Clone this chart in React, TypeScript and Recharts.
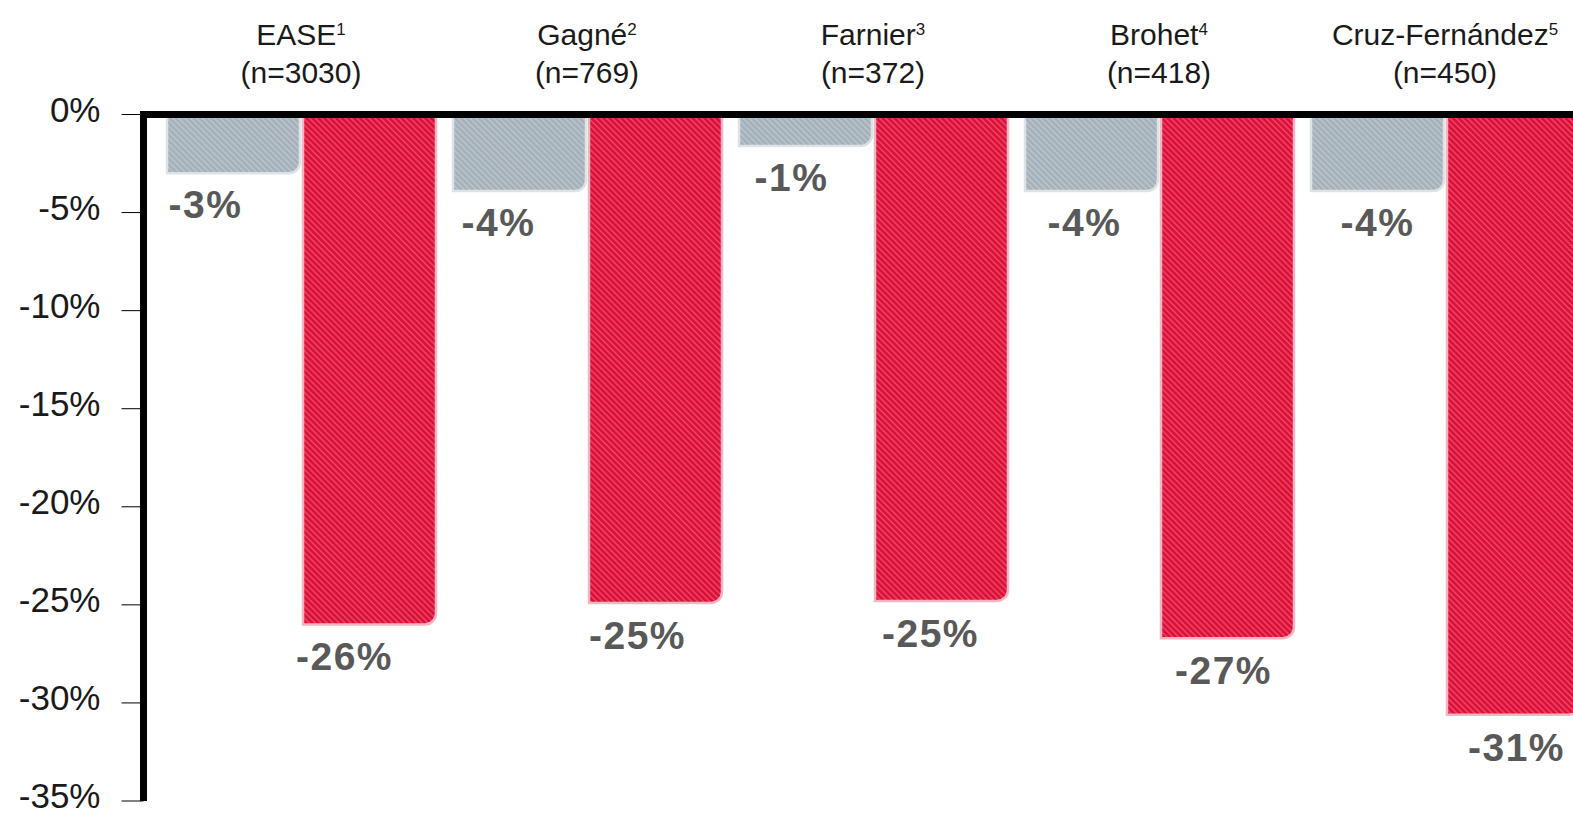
import { BarChart, Bar, XAxis, YAxis, LabelList } from 'recharts'

const STUDIES = ['EASE', 'Gagné', 'Farnier', 'Brohet', 'Cruz-Fernández']
const CITATIONS = ['1', '2', '3', '4', '5']
const SAMPLE_SIZES = ['(n=3030)', '(n=769)', '(n=372)', '(n=418)', '(n=450)']
const PLACEBO = [-3.0, -3.9, -1.6, -3.9, -3.9]
const EZETIMIBE = [-26.0, -24.9, -24.8, -26.7, -30.6]
const PLACEBO_LABELS = ['-3%', '-4%', '-1%', '-4%', '-4%']
const EZETIMIBE_LABELS = ['-26%', '-25%', '-25%', '-27%', '-31%']
const Y_TICKS = [0, -5, -10, -15, -20, -25, -30, -35]

const data = STUDIES.map((name, i) => ({
  name,
  citation: CITATIONS[i],
  sampleSize: SAMPLE_SIZES[i],
  placebo: PLACEBO[i],
  ezetimibe: EZETIMIBE[i],
  placeboLabel: PLACEBO_LABELS[i],
  ezetimibeLabel: EZETIMIBE_LABELS[i],
}))

const FONT = '"Liberation Sans", Arial, Helvetica, sans-serif'

function StudyTick({ x, y, payload, index }: any) {
  const row = data[index] ?? data.find((d) => d.name === payload.value)
  return (
    <g>
      <text x={x} y={y - 70} textAnchor='middle' fontSize={30} fill='#1a1a1a' fontFamily={FONT}>
        {payload.value}
        <tspan dy={-10} fontSize={17}>
          {row?.citation}
        </tspan>
      </text>
      <text x={x} y={y - 32} textAnchor='middle' fontSize={30} fill='#1a1a1a' fontFamily={FONT}>
        {row?.sampleSize}
      </text>
    </g>
  )
}

// bottom label sits close to the page edge, so keep the offset small
function PercentTick({ x, y, payload }: any) {
  return (
    <text x={x} y={y + 7} textAnchor='end' fontSize={35} fill='#1a1a1a' fontFamily={FONT}>
      {`${payload.value}%`}
    </text>
  )
}

function makeLabel(startShift: number, step: number, baseline: number) {
  return (props: any) => {
    const { x, y, width, height, value, index } = props
    const bottom = Math.max(Number(y), Number(y) + Number(height))
    return (
      <text
        x={Number(x) + Number(width) / 2 + startShift + step * index}
        y={bottom + baseline}
        textAnchor='middle'
        fontSize={39}
        fontWeight='bold'
        letterSpacing={1.5}
        fill='#595959'
        fontFamily={FONT}
      >
        {value}
      </text>
    )
  }
}

export default function App() {
  return (
    <div
      style={{
        position: 'fixed',
        left: 0,
        top: 0,
        width: 1573,
        height: 815,
        overflow: 'hidden',
        background: '#fff',
      }}
    >
      <BarChart
        width={1600}
        height={815}
        data={data}
        margin={{ top: 0, right: 12, left: 0, bottom: 14 }}
        barCategoryGap={9}
        barGap={3}
      >
        <defs>
          <pattern id='grayHatch' patternUnits='userSpaceOnUse' width={4.2} height={4.2} patternTransform='rotate(-45)'>
            <rect width={4.2} height={4.2} fill='#a5b1ba' />
            <rect width={1.7} height={4.2} fill='#b8c2c9' />
          </pattern>
          <pattern id='redHatch' patternUnits='userSpaceOnUse' width={4.2} height={4.2} patternTransform='rotate(-45)'>
            <rect width={4.2} height={4.2} fill='#dc0f38' />
            <rect width={1.7} height={4.2} fill='#e8415f' />
          </pattern>
        </defs>
        <XAxis
          dataKey='name'
          orientation='top'
          height={114.5}
          interval={0}
          tickLine={false}
          tickSize={0}
          tickMargin={0}
          padding={{ left: 14.5, right: 0 }}
          axisLine={{ stroke: '#000', strokeWidth: 7, strokeLinecap: 'square' }}
          tick={<StudyTick />}
        />
        <YAxis
          domain={[-35, 0]}
          ticks={Y_TICKS}
          width={143.5}
          interval={0}
          tickSize={22}
          tickMargin={21}
          tickLine={{ stroke: '#000', strokeWidth: 1 }}
          axisLine={{ stroke: '#000', strokeWidth: 7 }}
          tick={<PercentTick />}
        />
        <Bar
          dataKey='placebo'
          name='Placebo'
          fill='url(#grayHatch)'
          stroke='#dde2e6'
          strokeWidth={2.5}
          radius={[0, 11, 0, 0]}
          isAnimationActive={false}
        >
          <LabelList dataKey='placeboLabel' content={makeLabel(-28, 7, 45)} />
        </Bar>
        <Bar
          dataKey='ezetimibe'
          name='Ezetimibe'
          fill='url(#redHatch)'
          stroke='#f4b4c1'
          strokeWidth={2.5}
          radius={[0, 11, 0, 0]}
          isAnimationActive={false}
        >
          <LabelList dataKey='ezetimibeLabel' content={makeLabel(-25, 7, 46)} />
        </Bar>
      </BarChart>
    </div>
  )
}
